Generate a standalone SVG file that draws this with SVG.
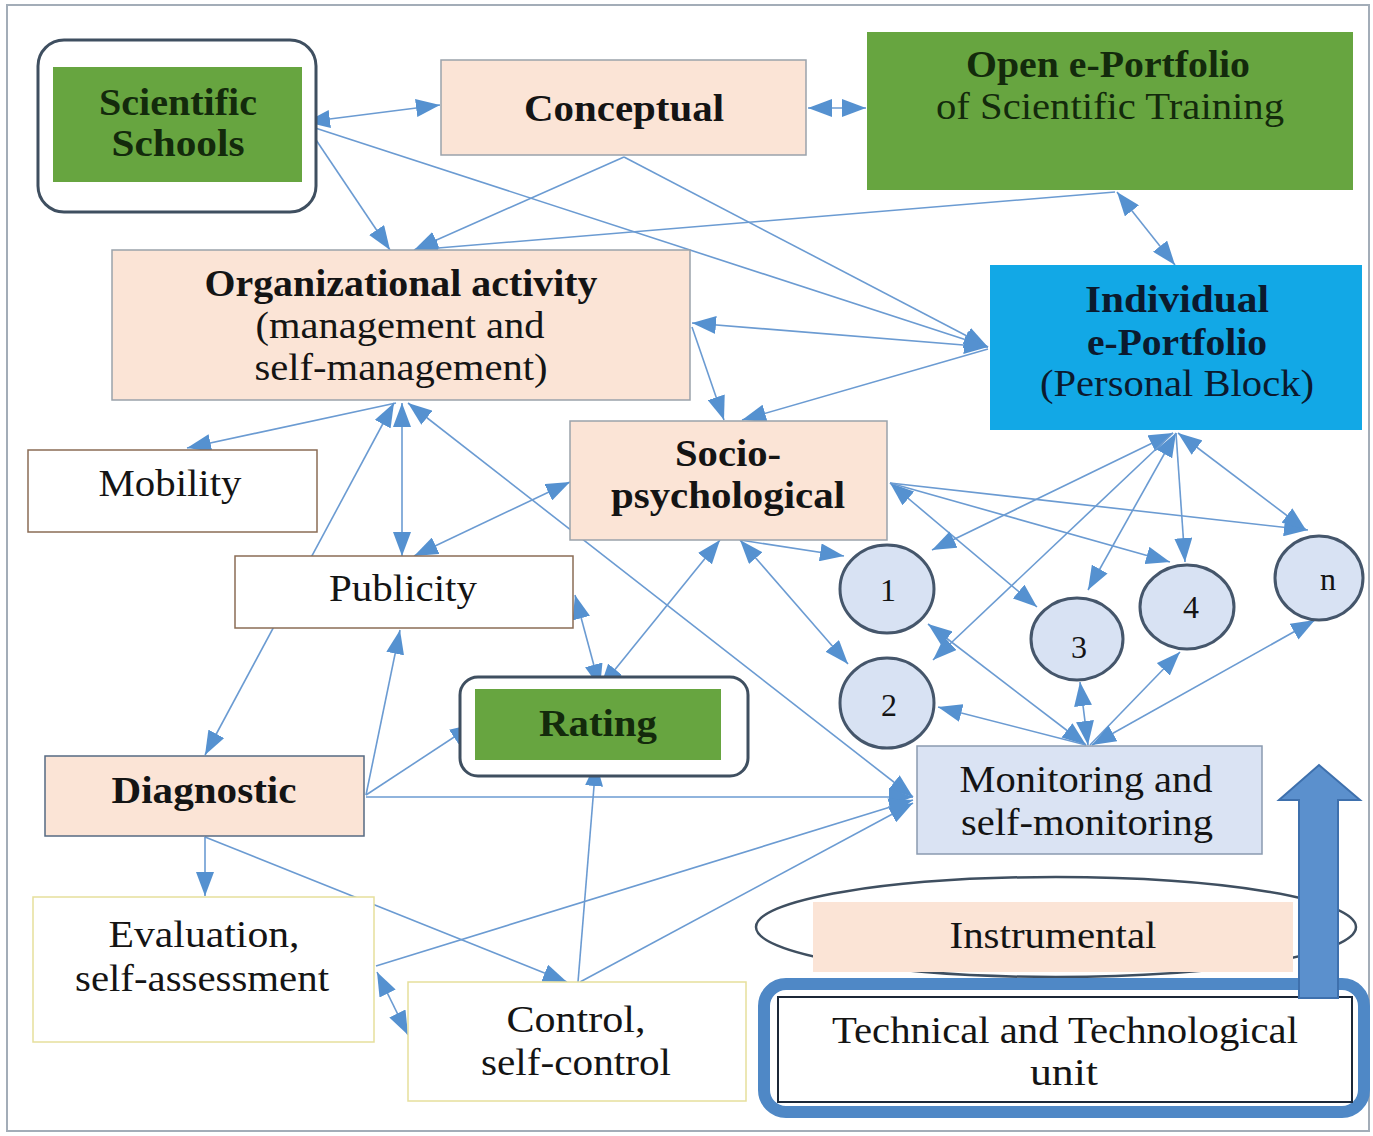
<svg xmlns="http://www.w3.org/2000/svg" width="1373" height="1136" viewBox="0 0 1373 1136">
<style>
.t{font-family:"Liberation Serif",Tinos,"Times New Roman","Nimbus Roman","FreeSerif",serif;font-size:37px;fill:#141414;text-anchor:middle}
.b{font-weight:bold}
.g{fill:#132a0c}
.n{font-size:32px}
.c{stroke:#6b9bd2;stroke-width:1.6;fill:none}
.e{marker-end:url(#ah)}
.s{marker-start:url(#ah)}
.peach{fill:#fbe4d6;stroke:#9aa2ab;stroke-width:1.5}
.green{fill:#67a540}
.white{fill:#fff;stroke:#8a6c55;stroke-width:1.5}
.yel{fill:#fff;stroke:#e6df9c;stroke-width:1.5}
.circ{fill:#d8e2f3;stroke:#45566b;stroke-width:3}
.frame{fill:#fff;stroke:#3f4f60;stroke-width:3}
</style>
<defs>
<marker id="ah" viewBox="0 0 24 18" refX="24" refY="9" markerWidth="24" markerHeight="18" markerUnits="userSpaceOnUse" orient="auto-start-reverse">
<path d="M0,0 L24,9 L0,18 z" fill="#5591d0"/>
</marker>
</defs>
<rect x="0" y="0" width="1373" height="1136" fill="#fff"/>
<rect x="7" y="5" width="1362" height="1126" fill="#fff" stroke="#a3adb8" stroke-width="2"/>

<g id="connectors">
<line class="c s e" x1="306" y1="122" x2="440" y2="105"/>
<line class="c s e" x1="808" y1="108" x2="866" y2="108"/>
<line class="c e" x1="306" y1="125" x2="390" y2="250"/>
<line class="c e" x1="306" y1="125" x2="988" y2="347"/>
<line class="c e" x1="624" y1="157" x2="414" y2="250"/>
<line class="c e" x1="624" y1="157" x2="988" y2="347"/>
<line class="c e" x1="1115" y1="192" x2="414" y2="250"/>
<line class="c s e" x1="1117" y1="192" x2="1175" y2="265"/>
<line class="c s e" x1="692" y1="323" x2="988" y2="347"/>
<line class="c e" x1="692" y1="327" x2="724" y2="420"/>
<line class="c e" x1="988" y1="349" x2="742" y2="420"/>
<line class="c e" x1="396" y1="403" x2="187" y2="448"/>
<line class="c s e" x1="402" y1="403" x2="402" y2="556"/>
<line class="c s e" x1="414" y1="556" x2="570" y2="482"/>
<line class="c s e" x1="205" y1="755" x2="394" y2="403"/>
<line class="c s e" x1="408" y1="403" x2="913" y2="797"/>
<line class="c s e" x1="600" y1="688" x2="720" y2="540"/>
<line class="c s e" x1="575" y1="595" x2="600" y2="688"/>
<line class="c e" x1="740" y1="540" x2="844" y2="556"/>
<line class="c s e" x1="740" y1="540" x2="848" y2="664"/>
<line class="c s e" x1="890" y1="483" x2="1037" y2="607"/>
<line class="c e" x1="890" y1="483" x2="1170" y2="562"/>
<line class="c e" x1="890" y1="483" x2="1308" y2="530"/>
<line class="c s e" x1="1173" y1="433" x2="932" y2="550"/>
<line class="c e" x1="1173" y1="433" x2="933" y2="660"/>
<line class="c s e" x1="1176" y1="433" x2="1088" y2="590"/>
<line class="c e" x1="1176" y1="433" x2="1185" y2="562"/>
<line class="c s e" x1="1178" y1="433" x2="1306" y2="530"/>
<line class="c s e" x1="1086" y1="745" x2="928" y2="624"/>
<line class="c e" x1="1086" y1="745" x2="938" y2="707"/>
<line class="c s e" x1="1088" y1="745" x2="1080" y2="682"/>
<line class="c e" x1="1090" y1="745" x2="1180" y2="652"/>
<line class="c s e" x1="1092" y1="745" x2="1315" y2="620"/>
<line class="c e" x1="366" y1="795" x2="400" y2="630"/>
<line class="c e" x1="366" y1="795" x2="474" y2="724"/>
<line class="c e" x1="366" y1="797" x2="913" y2="797"/>
<line class="c e" x1="205" y1="837" x2="205" y2="896"/>
<line class="c e" x1="205" y1="837" x2="567" y2="982"/>
<line class="c e" x1="578" y1="982" x2="596" y2="762"/>
<line class="c e" x1="580" y1="982" x2="913" y2="803"/>
<line class="c e" x1="376" y1="966" x2="913" y2="800"/>
<line class="c s e" x1="377" y1="972" x2="408" y2="1035"/>
</g>

<g id="scientific-schools">
<rect class="frame" x="38" y="40" width="278" height="172" rx="26"/>
<rect class="green" x="53" y="67" width="249" height="115"/>
<text class="t b g" x="178" y="115" textLength="158" lengthAdjust="spacingAndGlyphs">Scientific</text>
<text class="t b g" x="178" y="156" textLength="133" lengthAdjust="spacingAndGlyphs">Schools</text>
</g>

<g id="conceptual">
<rect class="peach" x="441" y="60" width="365" height="95"/>
<text class="t b" x="624" y="121" textLength="200" lengthAdjust="spacingAndGlyphs">Conceptual</text>
</g>

<g id="open-eportfolio">
<rect class="green" x="867" y="32" width="486" height="158"/>
<text class="t b g" x="1108" y="77" textLength="284" lengthAdjust="spacingAndGlyphs">Open e-Portfolio</text>
<text class="t g" x="1110" y="119" textLength="348" lengthAdjust="spacingAndGlyphs">of Scientific Training</text>
</g>

<g id="organizational">
<rect class="peach" x="112" y="250" width="578" height="150"/>
<text class="t b" x="401" y="296" textLength="393" lengthAdjust="spacingAndGlyphs">Organizational activity</text>
<text class="t" x="400" y="338" textLength="289" lengthAdjust="spacingAndGlyphs">(management and</text>
<text class="t" x="401" y="380" textLength="293" lengthAdjust="spacingAndGlyphs">self-management)</text>
</g>

<g id="individual-eportfolio">
<rect x="990" y="265" width="372" height="165" fill="#12a8e6"/>
<text class="t b" x="1177" y="312" style="fill:#0b1a2e" textLength="184" lengthAdjust="spacingAndGlyphs">Individual</text>
<text class="t b" x="1177" y="355" style="fill:#0b1a2e" textLength="180" lengthAdjust="spacingAndGlyphs">e-Portfolio</text>
<text class="t" x="1177" y="396" style="fill:#0b1a2e" textLength="274" lengthAdjust="spacingAndGlyphs">(Personal Block)</text>
</g>

<g id="mobility">
<rect class="white" x="28" y="450" width="289" height="82"/>
<text class="t" x="170" y="496" textLength="143" lengthAdjust="spacingAndGlyphs">Mobility</text>
</g>

<g id="socio-psychological">
<rect class="peach" x="570" y="421" width="317" height="119"/>
<text class="t b" x="728" y="466" textLength="106" lengthAdjust="spacingAndGlyphs">Socio-</text>
<text class="t b" x="728" y="508" textLength="234" lengthAdjust="spacingAndGlyphs">psychological</text>
</g>

<g id="publicity">
<rect class="white" x="235" y="556" width="338" height="72"/>
<text class="t" x="403" y="601" textLength="148" lengthAdjust="spacingAndGlyphs">Publicity</text>
</g>

<g id="rating">
<rect class="frame" x="460" y="677" width="288" height="99" rx="18"/>
<rect class="green" x="475" y="689" width="246" height="71"/>
<text class="t b g" x="598" y="736" textLength="118" lengthAdjust="spacingAndGlyphs">Rating</text>
</g>

<g id="diagnostic">
<rect x="45" y="756" width="319" height="80" fill="#fbe4d6" stroke="#566a82" stroke-width="1.5"/>
<text class="t b" x="204" y="803" textLength="185" lengthAdjust="spacingAndGlyphs">Diagnostic</text>
</g>

<g id="evaluation">
<rect class="yel" x="33" y="897" width="341" height="145"/>
<text class="t" x="204" y="947" textLength="191" lengthAdjust="spacingAndGlyphs">Evaluation,</text>
<text class="t" x="202" y="991" textLength="254" lengthAdjust="spacingAndGlyphs">self-assessment</text>
</g>

<g id="control">
<rect class="yel" x="408" y="982" width="338" height="119"/>
<text class="t" x="576" y="1032" textLength="139" lengthAdjust="spacingAndGlyphs">Control,</text>
<text class="t" x="576" y="1075" textLength="190" lengthAdjust="spacingAndGlyphs">self-control</text>
</g>

<g id="monitoring">
<rect x="917" y="746" width="345" height="108" fill="#dae3f3" stroke="#8a9ab0" stroke-width="1.5"/>
<text class="t" x="1086" y="792" textLength="253" lengthAdjust="spacingAndGlyphs">Monitoring and</text>
<text class="t" x="1087" y="835" textLength="252" lengthAdjust="spacingAndGlyphs">self-monitoring</text>
</g>

<g id="circle-1">
<ellipse class="circ" cx="887" cy="589" rx="47" ry="44"/>
<text class="t n" x="888" y="601">1</text>
</g>
<g id="circle-2">
<ellipse class="circ" cx="887" cy="703" rx="47" ry="45"/>
<text class="t n" x="889" y="716">2</text>
</g>
<g id="circle-3">
<ellipse class="circ" cx="1077" cy="639" rx="46" ry="41"/>
<text class="t n" x="1079" y="658">3</text>
</g>
<g id="circle-4">
<ellipse class="circ" cx="1187" cy="607" rx="47" ry="42"/>
<text class="t n" x="1191" y="618">4</text>
</g>
<g id="circle-n">
<ellipse class="circ" cx="1319" cy="578" rx="44" ry="42"/>
<text class="t n" x="1328" y="590">n</text>
</g>

<g id="instrumental">
<ellipse cx="1056" cy="927" rx="300" ry="50" fill="#fff" stroke="#3f4f60" stroke-width="2.5"/>
<rect x="813" y="902" width="480" height="70" fill="#fbe4d6"/>
<text class="t" x="1053" y="948" textLength="207" lengthAdjust="spacingAndGlyphs">Instrumental</text>
</g>

<g id="technical-unit">
<rect x="764" y="984" width="600" height="128" rx="22" fill="#fff" stroke="#4f88c6" stroke-width="12"/>
<rect x="778" y="997" width="574" height="105" fill="#fff" stroke="#1c2838" stroke-width="2"/>
<text class="t" x="1065" y="1043" textLength="466" lengthAdjust="spacingAndGlyphs">Technical and Technological</text>
<text class="t" x="1064" y="1085" textLength="68" lengthAdjust="spacingAndGlyphs">unit</text>
</g>

<g id="big-arrow">
<polygon points="1299,998 1299,800 1279,800 1319,765 1360,800 1338,800 1338,998" fill="#5b90cd" stroke="#3e70ad" stroke-width="2"/>
</g>
</svg>
